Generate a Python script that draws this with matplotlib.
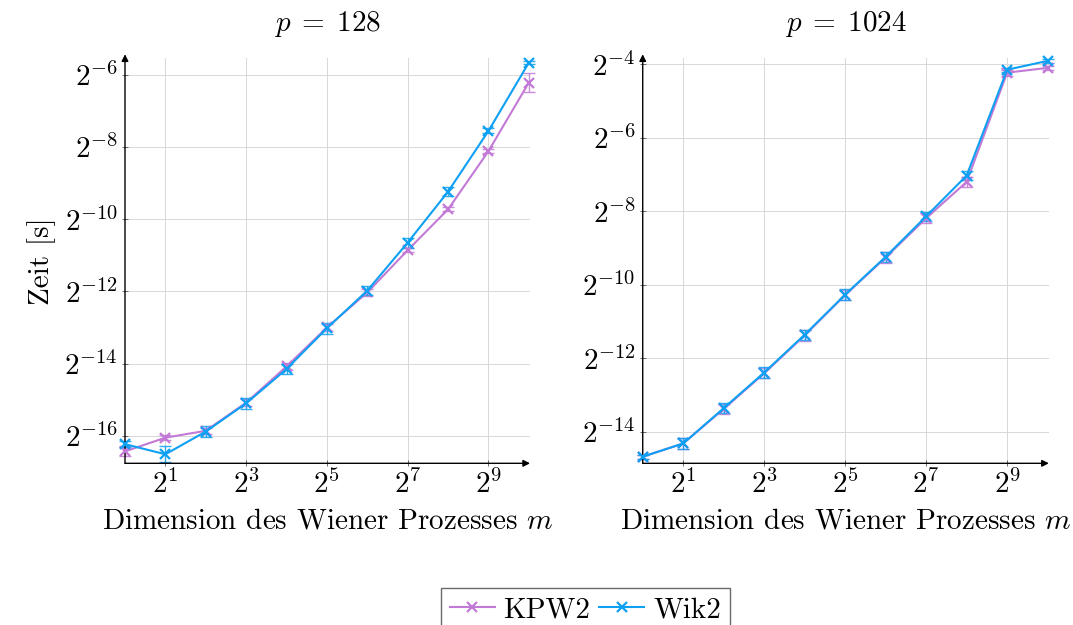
import matplotlib
matplotlib.use("Agg")
import matplotlib.pyplot as plt
import numpy as np

plt.rcParams['font.family'] = ['cmr10', 'DejaVu Serif']
plt.rcParams['mathtext.fontset'] = 'cm'
plt.rcParams['axes.unicode_minus'] = False
plt.rcParams['axes.formatter.use_mathtext'] = True

m = [1, 2, 4, 8, 16, 32, 64, 128, 256, 512, 1024]

# log2 of time in seconds
kpw2_128 = [-16.43, -16.05, -15.86, -15.08, -14.08, -13.00, -12.03, -10.86, -9.73, -8.12, -6.22]
wik2_128 = [-16.23, -16.51, -15.88, -15.10, -14.15, -13.02, -11.98, -10.65, -9.24, -7.56, -5.67]
kpw2_1024 = [-14.68, -14.32, -13.38, -12.41, -11.38, -10.28, -9.26, -8.19, -7.20, -4.23, -4.10]
wik2_1024 = [-14.68, -14.32, -13.36, -12.39, -11.36, -10.27, -9.24, -8.14, -7.03, -4.15, -3.91]

# error half widths in log2 units
err_kpw2_128 = [0.12, 0.06, 0.08, 0.10, 0.09, 0.09, 0.09, 0.06, 0.06, 0.06, 0.26]
err_wik2_128 = [0.08, 0.22, 0.14, 0.15, 0.15, 0.15, 0.13, 0.14, 0.13, 0.07, 0.05]
err_kpw2_1024 = [0.05, 0.14, 0.14, 0.14, 0.14, 0.14, 0.14, 0.14, 0.14, 0.08, 0.06]
err_wik2_1024 = [0.05, 0.14, 0.14, 0.14, 0.14, 0.14, 0.14, 0.12, 0.12, 0.05, 0.05]

titles = [r"$p\;=\;128$", r"$p\;=\;1024$"]
col = ["#c27ad6", "#0ea0f2"]
lab = ["KPW2", "Wik2"]

panels = [
    ([kpw2_128, wik2_128], [err_kpw2_128, err_wik2_128], (-16.76, -5.55), [-16, -14, -12, -10, -8, -6]),
    ([kpw2_1024, wik2_1024], [err_kpw2_1024, err_wik2_1024], (-14.86, -3.84), [-14, -12, -10, -8, -6, -4]),
]
positions = [[0.1165, 0.2587, 0.3775, 0.648], [0.599, 0.2587, 0.3785, 0.648]]

fs = 21
fig = plt.figure(figsize=(10.73, 6.25), dpi=100)
handles = []
for k in range(2):
    ax = fig.add_axes(positions[k])
    ys, errs, ylim, yt = panels[k]
    for i in range(2):
        y = 2.0 ** np.array(ys[i])
        e = np.array(errs[i])
        lo = y - 2.0 ** (np.array(ys[i]) - e)
        hi = 2.0 ** (np.array(ys[i]) + e) - y
        ax.errorbar(m, y, yerr=[lo, hi], color=col[i], ecolor=col[i], elinewidth=1.0,
                    capsize=4, capthick=1.0, alpha=0.85, fmt='none', clip_on=False, zorder=3)
        h, = ax.plot(m, y, color=col[i], marker='x', markersize=6.5, markeredgewidth=1.6,
                     linewidth=1.5, label=lab[i], clip_on=False, zorder=4)
        if k == 0:
            handles.append(h)
    ax.set_xscale('log', base=2)
    ax.set_yscale('log', base=2)
    ax.set_xlim(1, 2 ** 10.03)
    ax.set_ylim(2.0 ** ylim[0], 2.0 ** ylim[1])
    ax.set_xticks([2, 8, 32, 128, 512])
    ax.set_xticklabels(["$2^{1}$", "$2^{3}$", "$2^{5}$", "$2^{7}$", "$2^{9}$"])
    ax.set_yticks([2.0 ** t for t in yt])
    ax.set_yticklabels(["$2^{%d}$" % t for t in yt])
    ax.minorticks_off()
    ax.tick_params(labelsize=fs, length=4, width=0.6, direction='inout', color='#555555', pad=3)
    ax.grid(True, color='#d8d8d8', linewidth=0.7)
    for s in ['top', 'right', 'left', 'bottom']:
        ax.spines[s].set_visible(False)
    ax.annotate('', xy=(0, 1.01), xytext=(0, 0), xycoords='axes fraction',
                arrowprops=dict(arrowstyle='-|>', color='black', lw=1.0, mutation_scale=10,
                                shrinkA=0, shrinkB=0))
    ax.annotate('', xy=(1.0, 0), xytext=(0, 0), xycoords='axes fraction',
                arrowprops=dict(arrowstyle='-|>', color='black', lw=1.0, mutation_scale=10,
                                shrinkA=0, shrinkB=0))
    ax.set_title(titles[k], fontsize=fs, pad=20)
    ax.set_xlabel("Dimension des Wiener Prozesses $m$", fontsize=fs, labelpad=6)
    if k == 0:
        ax.set_ylabel("Zeit [s]", fontsize=fs, labelpad=6)

leg = fig.legend(handles, lab, loc='lower center', bbox_to_anchor=(0.5455, -0.035), ncol=2,
                 fontsize=fs, frameon=True, fancybox=False, handlelength=1.55,
                 handletextpad=0.3, columnspacing=0.3, borderpad=0.3)
leg.get_frame().set_edgecolor('#444444')
leg.get_frame().set_linewidth(1.0)

plt.savefig("out.png", dpi=100)
